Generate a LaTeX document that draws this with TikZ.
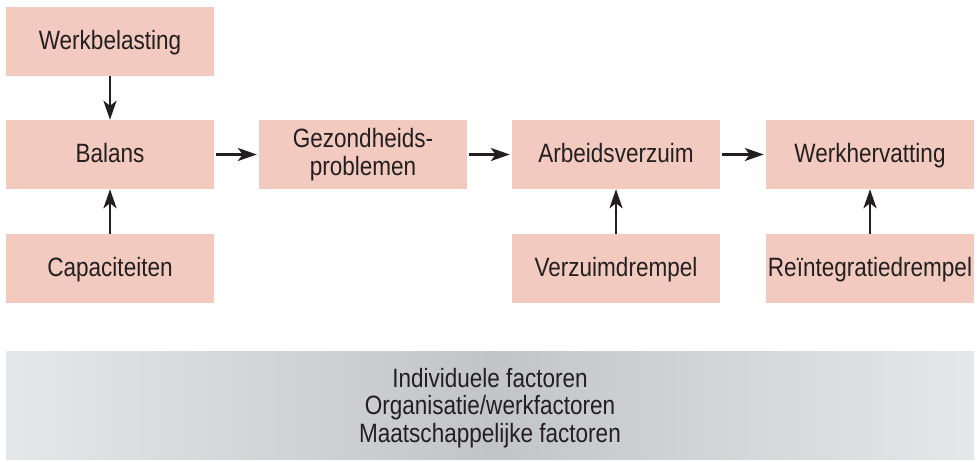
\documentclass[tikz,border=0pt]{standalone}
\usepackage{fontspec}
\setmainfont{Liberation Sans}[FakeStretch=0.85]
\usetikzlibrary{arrows.meta}
\definecolor{boxpink}{HTML}{F2CABF}
\definecolor{txt}{HTML}{231F20}
\definecolor{gedge}{HTML}{E6E7E8}
\definecolor{gmid}{HTML}{C3C4C6}
\tikzset{
  stepbox/.style={fill=boxpink, draw=none, minimum width=208pt, minimum height=69pt, inner sep=0pt,
    text=txt, align=center, font=\fontsize{26.5pt}{27.5pt}\selectfont, text height=19pt, text depth=4pt},
  conn/.style={draw=txt, line width=2.8pt, -{Stealth[length=19pt,width=13pt,inset=5pt]}},
  hconn/.style={conn, shorten <=2pt, shorten >=2pt}
}
\begin{document}
\begin{tikzpicture}[x=1pt,y=-1pt]
\useasboundingbox (0,0) rectangle (980,461);
\node[stepbox] (wb) at (110,41.5) {Werkbelasting};
\node[stepbox] (bal) at (110,154.5) {Balans};
\node[stepbox] (cap) at (110,268.5) {Capaciteiten};
\node[stepbox, text height=, text depth=] (gez) at (363,154.5) {Gezondheids-\\problemen};
\node[stepbox] (arb) at (616,154.5) {Arbeidsverzuim};
\node[stepbox] (whv) at (870,154.5) {Werkhervatting};
\node[stepbox] (vzd) at (616,268.5) {Verzuimdrempel};
\node[stepbox] (rid) at (870,268.5) {Reïntegratiedrempel};
\shade[left color=gedge, right color=gedge, middle color=gmid] (6,351) rectangle (974,459);
\node[text=txt, align=center, font=\fontsize{26.5pt}{27.5pt}\selectfont, inner sep=0pt] (fac) at (490,408)
  {Individuele factoren\\Organisatie/werkfactoren\\Maatschappelijke factoren};
\draw[conn] (wb) -- (bal);
\draw[conn] (cap) -- (bal);
\draw[hconn] (bal) -- (gez);
\draw[hconn] (gez) -- (arb);
\draw[hconn] (arb) -- (whv);
\draw[conn] (vzd) -- (arb);
\draw[conn] (rid) -- (whv);
\end{tikzpicture}
\end{document}
